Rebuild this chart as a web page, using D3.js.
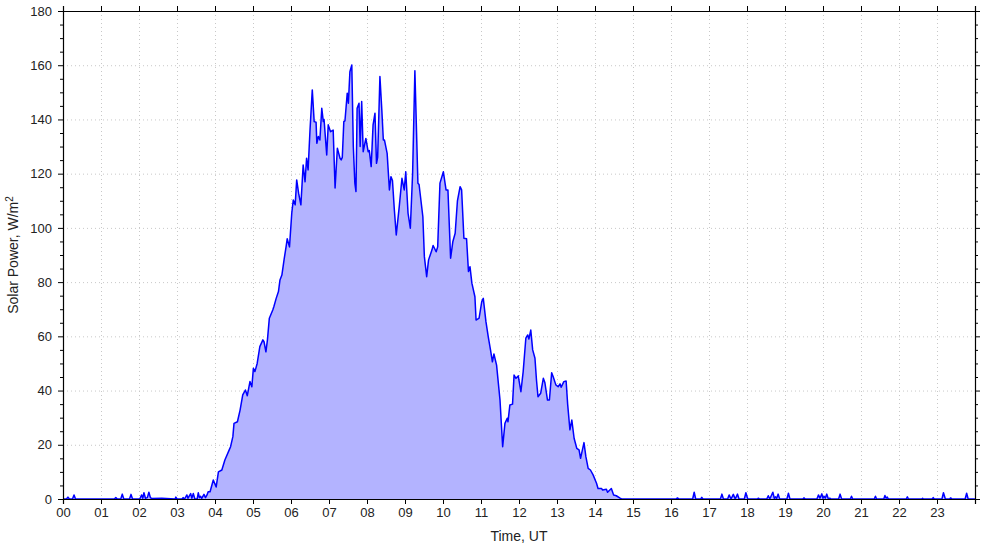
<!DOCTYPE html>
<meta charset="utf-8">
<style>
body { margin: 0; background: #fff; }
svg { font-family: "Liberation Sans", Arial, sans-serif; }
.grid line { stroke: #c8c8c8; stroke-dasharray: 1,3; }
.axis path, .axis line { stroke: #000; }
.axis text { font-size: 13px; fill: #222; }
.area { fill: #b3b3ff; }
.line { fill: none; stroke: #0000ff; stroke-width: 1.5px; stroke-linejoin: round; }
</style>
<svg width="985" height="547"></svg>
<script src="https://cdn.jsdelivr.net/npm/d3@7"></script>
<script>

// hour labels along the bottom
var hourLabels = ["00","01","02","03","04","05","06","07","08","09","10","11",
                  "12","13","14","15","16","17","18","19","20","21","22","23"];
var powerTicks = [0, 20, 40, 60, 80, 100, 120, 140, 160, 180];

// [time UT in hours, solar power W/m2]
var nightBefore = [
  [0,0],[0.09,0],[0.13,0.7],[0.17,0],[0.25,0],[0.29,1.5],[0.33,0],
  [1.35,0],[1.39,0.5],[1.43,0],[1.52,0],[1.56,1.8],[1.6,0],[1.75,0],[1.79,1.7],[1.83,0],
  [2.02,0],[2.07,1.5],[2.1,0.3],[2.13,2.3],[2.17,0.3],[2.22,0.5],[2.26,2.5],[2.3,0.5],
  [2.33,0.2],[2.6,0.3],[2.95,0],[2.97,0.7],[3.0,0],[3.13,0],[3.16,0.5],[3.2,0],
  [3.26,1.5],[3.29,0.3],[3.36,2],[3.39,0.3],[3.43,2],[3.47,0],[3.53,0],[3.56,2.3],
  [3.59,0.5],[3.62,1],[3.65,0.2],[3.71,1.7],[3.75,0.5],[3.79,1.5],[3.82,2.7]
];

var daytime = [
  [3.87,2.7],[3.955,7],[4.03,4.4],[4.09,10],[4.18,10.7],[4.26,14.4],[4.38,18.3],[4.41,19.3],
  [4.47,23],[4.5,27.9],[4.59,28.5],[4.66,32.8],[4.73,38.4],[4.8,40.2],[4.85,38.1],[4.92,43.3],
  [4.97,41.4],[5.01,48.2],[5.05,47],[5.11,50],[5.18,56.2],[5.26,58.7],[5.29,58],[5.34,54.3],
  [5.38,58.7],[5.43,66.7],[5.52,69.7],[5.55,71],[5.61,74],[5.67,76.5],[5.71,80.8],[5.76,82.6],
  [5.82,88.5],[5.87,93],[5.9,96],[5.96,93],[6.02,105.4],[6.06,110.3],[6.11,108.5],[6.15,117.7],
  [6.2,112.8],[6.26,108.5],[6.32,123.2],[6.37,117],[6.41,125.7],[6.45,121.4],[6.5,136],
  [6.56,150.9],[6.61,139.2],[6.66,139],[6.68,131.2],[6.72,133.7],[6.76,132.4],[6.81,144.1],
  [6.85,139.2],[6.87,140],[6.94,126.9],[6.98,138],[7.04,135.5],[7.11,136.1],[7.16,114.7],
  [7.22,129.4],[7.29,125.7],[7.32,125.1],[7.35,126],[7.39,139.2],[7.42,139.5],[7.48,149.7],
  [7.51,146],[7.55,157.6],[7.6,160.1],[7.64,130],[7.68,116.5],[7.71,113.4],[7.74,144.1],
  [7.79,146],[7.82,130],[7.86,146.6],[7.9,128.1],[7.97,133],[8.03,128.1],[8.06,128.5],
  [8.11,122.6],[8.16,138],[8.21,142.3],[8.25,123.8],[8.28,126],[8.34,155.8],[8.39,143.5],
  [8.43,132.4],[8.46,132.4],[8.53,127.5],[8.59,114],[8.63,118.9],[8.67,117.5],[8.72,106.6],
  [8.77,97.4],[8.85,108],[8.92,118.3],[8.98,114],[9.02,120.7],[9.08,105.4],[9.14,99.9],
  [9.2,120],[9.26,158],[9.34,116.5],[9.37,116],[9.47,104.1],[9.51,89.4],[9.57,82],[9.62,88.2],
  [9.71,91.9],[9.74,93.5],[9.82,91.2],[9.86,93],[9.92,116.5],[10.01,120.7],[10.08,114],
  [10.13,114],[10.2,88.8],[10.26,95],[10.32,98],[10.38,110],[10.45,115.2],[10.49,114],
  [10.55,96.2],[10.62,96],[10.67,83.9],[10.71,85.7],[10.76,79.6],[10.84,74.6],[10.87,66],
  [10.95,66.7],[11.02,72.8],[11.06,74],[11.13,65.4],[11.19,59.9],[11.25,55],[11.3,50.6],
  [11.34,53.5],[11.41,49.4],[11.5,36.5],[11.57,19.3],[11.63,27.9],[11.69,29.8],[11.71,28.5],
  [11.76,34.7],[11.83,35],[11.87,45.7],[11.92,44.5],[11.98,45.4],[12.05,39.6],[12.11,47],
  [12.18,59.3],[12.23,60.5],[12.26,59],[12.31,62.3],[12.36,55],[12.42,51.9],[12.46,43.9],
  [12.5,37.7],[12.57,39],[12.64,44.5],[12.68,43],[12.75,36.5],[12.8,36.5],[12.86,46.6],
  [12.9,45.1],[12.97,42.1],[13.03,41.4],[13.08,42.5],[13.11,41.2],[13.18,43.3],[13.24,43.5],
  [13.28,35],[13.34,25.5],[13.39,29.1],[13.45,22.4],[13.52,18.7],[13.58,18.1],[13.62,15],
  [13.71,20.8],[13.76,15.6],[13.82,11.3],[13.88,10.7],[13.95,8.9],[14.04,5.8],[14.08,3.9],
  [14.17,3.9],[14.2,3.3],[14.3,3.6],[14.33,2.5],[14.43,3.9],[14.49,1.5],[14.56,1.2],
  [14.66,0.3],[14.7,0]
];

var nightAfter = [
  [16.13,0],[16.17,0.4],[16.21,0],[16.57,0],[16.61,2.5],[16.65,0],[16.78,0],[16.81,0.6],[16.84,0],
  [17.3,0],[17.34,1.8],[17.38,0],[17.49,0],[17.53,1.5],[17.58,0],[17.64,1.7],[17.69,0],
  [17.75,1.8],[17.79,0],[17.93,0],[17.97,2.3],[18.02,0],[18.27,0],[18.3,0.3],[18.33,0],
  [18.52,0],[18.56,1.2],[18.6,0],[18.68,2.5],[18.72,0.2],[18.75,0.8],[18.78,0.2],[18.82,1.8],
  [18.86,0],[19.05,0],[19.09,2.1],[19.13,0],[19.47,0],[19.5,0.4],[19.53,0],[19.84,0],
  [19.88,1.5],[19.92,0.3],[19.97,1.9],[20.0,0.3],[20.03,1],[20.06,0.3],[20.1,1.8],[20.14,0],
  [20.18,0.3],[20.21,0],[20.41,0],[20.45,1.8],[20.49,0],[20.72,0],[20.75,1],[20.78,0],
  [21.35,0],[21.38,1],[21.41,0],[21.6,0],[21.63,1.3],[21.66,0.3],[21.69,0.7],[21.72,0],
  [22.19,0],[22.22,0.8],[22.25,0],[22.6,0],[22.62,0.3],[22.64,0],[22.87,0],[22.9,0.5],
  [22.93,0],[23.13,0],[23.17,2.3],[23.22,0],[23.33,0],[23.36,0.4],[23.39,0],[23.74,0],
  [23.78,2.1],[23.82,0],[24,0]
];

var series = nightBefore.concat(daytime, nightAfter);

var svg = d3.select("svg"),
    margin = {top: 11, right: 10, bottom: 48, left: 63},
    width = +svg.attr("width") - margin.left - margin.right,
    height = +svg.attr("height") - margin.top - margin.bottom;

var g = svg.append("g").attr("transform", "translate(" + margin.left + "," + margin.top + ")");

var x = d3.scaleLinear().domain([0, 24]).range([0, width]);
var y = d3.scaleLinear().domain([0, 180]).range([height, 0]);

var hours = d3.range(0, 24);
var minorTicks = d3.range(0, 181, 5).filter(function(d) { return d % 20; });

// dotted grid
g.append("g").attr("class", "grid")
  .selectAll("line").data(hours.slice(1))
  .enter().append("line")
    .attr("x1", function(d) { return x(d) + 0.5; }).attr("x2", function(d) { return x(d) + 0.5; })
    .attr("y1", 0).attr("y2", height);
g.append("g").attr("class", "grid")
  .selectAll("line").data(powerTicks.slice(1, -1))
  .enter().append("line")
    .attr("y1", function(d) { return y(d) + 0.5; }).attr("y2", function(d) { return y(d) + 0.5; })
    .attr("x1", 0).attr("x2", width);

var area = d3.area()
    .x(function(d) { return x(d[0]); })
    .y0(y(0))
    .y1(function(d) { return y(d[1]); });
var line = d3.line()
    .x(function(d) { return x(d[0]); })
    .y(function(d) { return y(d[1]); });

g.append("path").datum(series).attr("class", "area").attr("d", area);
g.append("path").datum(series).attr("class", "line").attr("d", line);

// axes
g.append("g").attr("class", "axis")
    .attr("transform", "translate(0," + height + ")")
    .call(d3.axisBottom(x).tickValues(hours).tickSize(5).tickPadding(4)
      .tickFormat(function(d, i) { return hourLabels[i]; }));
g.append("g").attr("class", "axis")
    .call(d3.axisTop(x).tickValues(hours).tickSize(5).tickFormat(""));

g.append("g").attr("class", "axis")
    .call(d3.axisLeft(y).tickValues(powerTicks).tickSize(5).tickPadding(6));
g.append("g").attr("class", "axis")
    .call(d3.axisLeft(y).tickValues(minorTicks).tickSize(3).tickFormat(""))
    .select(".domain").remove();
g.append("g").attr("class", "axis")
    .attr("transform", "translate(" + width + ",0)")
    .call(d3.axisRight(y).tickValues(powerTicks).tickSize(5).tickFormat(""));
g.append("g").attr("class", "axis")
    .attr("transform", "translate(" + width + ",0)")
    .call(d3.axisRight(y).tickValues(minorTicks).tickSize(3).tickFormat(""))
    .select(".domain").remove();

g.selectAll(".axis .domain").attr("stroke-width", 1.2);

// axis titles
svg.append("text")
    .attr("x", margin.left + width / 2)
    .attr("y", 541)
    .attr("text-anchor", "middle")
    .style("font-size", "14px").style("fill", "#222")
    .text("Time, UT");

var ylab = svg.append("text")
    .attr("transform", "translate(18," + (margin.top + height / 2) + ") rotate(-90)")
    .attr("text-anchor", "middle")
    .style("font-size", "14px").style("fill", "#222");
ylab.append("tspan").text("Solar Power, W/m");
ylab.append("tspan").attr("dy", -5).style("font-size", "10px").text("2");

</script>
